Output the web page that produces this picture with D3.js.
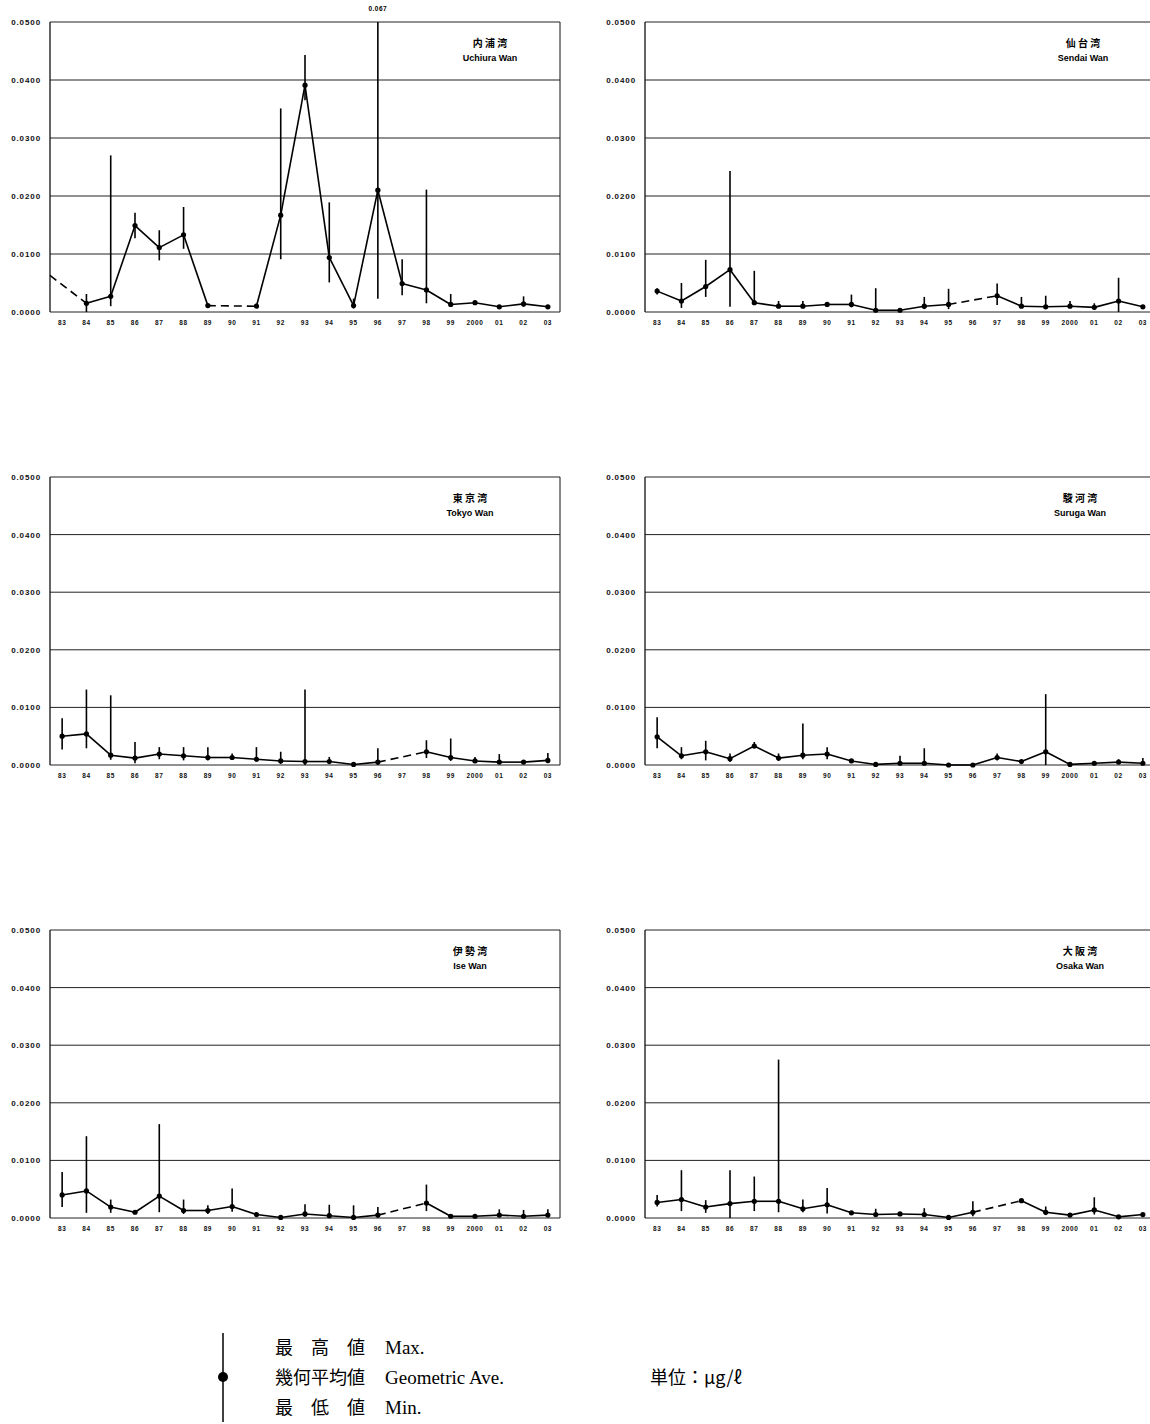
<!DOCTYPE html>
<html>
<head>
<meta charset="utf-8">
<script src="https://cdn.jsdelivr.net/npm/d3@7"></script>
<style>
body { margin: 0; background: #fff; }
</style>
</head>
<body>
<div id="chart"></div>
<script>
// survey years (x axis)
const years = ['83', '84', '85', '86', '87', '88', '89', '90', '91', '92', '93', '94', '95', '96', '97', '98', '99', '2000', '01', '02', '03'];
const yTicks = [0, 0.01, 0.02, 0.03, 0.04, 0.05];

// 内浦湾 Uchiura Wan
const uchiuraMean = [null, 0.0015, 0.0027, 0.0149, 0.0111, 0.0133, 0.0011, null, 0.0010, 0.0167, 0.0391, 0.0094, 0.0011, 0.0210, 0.0049, 0.0038, 0.0013, 0.0016, 0.0009, 0.0014, 0.0009];
const uchiuraMax = [null, 0.0031, 0.0270, 0.0171, 0.0141, 0.0181, null, null, null, 0.0351, 0.0443, 0.0189, 0.0023, 0.067, 0.0091, 0.0211, 0.0031, null, null, 0.0027, null];
const uchiuraMin = [null, 0.0000, 0.0010, 0.0127, 0.0089, 0.0109, null, null, null, 0.0091, 0.0365, 0.0051, 0.0006, 0.0023, 0.0029, 0.0015, 0.0009, null, null, 0.0009, null];
const uchiuraLeadIn = 0.0063; // dashed line coming in from 1982

// 仙台湾 Sendai Wan
const sendaiMean = [0.0036, 0.0019, 0.0044, 0.0073, 0.0016, 0.0010, 0.0010, 0.0013, 0.0013, 0.0003, 0.0003, 0.0010, 0.0013, null, 0.0028, 0.0010, 0.0009, 0.0010, 0.0008, 0.0019, 0.0009];
const sendaiMax = [0.0041, 0.0050, 0.0090, 0.0243, 0.0071, 0.0019, 0.0019, 0.0016, 0.0030, 0.0041, null, 0.0026, 0.0040, null, 0.0049, 0.0026, 0.0028, 0.0019, 0.0015, 0.0059, null];
const sendaiMin = [0.0030, 0.0007, 0.0026, 0.0009, 0.0012, 0.0007, 0.0007, 0.0010, 0.0008, 0.0000, null, 0.0005, 0.0005, null, 0.0012, 0.0007, 0.0006, 0.0007, 0.0005, 0.0000, null];

// 東京湾 Tokyo Wan
const tokyoMean = [0.0050, 0.0054, 0.0017, 0.0012, 0.0019, 0.0016, 0.0013, 0.0013, 0.0010, 0.0007, 0.0006, 0.0006, 0.0001, 0.0005, null, 0.0023, 0.0013, 0.0007, 0.0005, 0.0005, 0.0008];
const tokyoMax = [0.0081, 0.0131, 0.0121, 0.0040, 0.0031, 0.0031, 0.0031, 0.0020, 0.0031, 0.0023, 0.0131, 0.0014, null, 0.0029, null, 0.0043, 0.0046, 0.0014, 0.0019, null, 0.0021];
const tokyoMin = [0.0027, 0.0029, 0.0009, 0.0003, 0.0010, 0.0008, 0.0008, 0.0009, 0.0006, 0.0002, 0.0000, 0.0003, null, 0.0000, null, 0.0012, 0.0007, 0.0004, 0.0002, null, 0.0003];

// 駿河湾 Suruga Wan
const surugaMean = [0.0049, 0.0016, 0.0023, 0.0011, 0.0033, 0.0012, 0.0017, 0.0019, 0.0007, 0.0001, 0.0003, 0.0003, 0.0000, 0.0000, 0.0013, 0.0006, 0.0023, 0.0001, 0.0003, 0.0005, 0.0003];
const surugaMax = [0.0083, 0.0031, 0.0042, 0.0020, 0.0040, 0.0020, 0.0072, 0.0031, null, null, 0.0016, 0.0029, null, null, 0.0020, null, 0.0123, null, null, 0.0010, 0.0012];
const surugaMin = [0.0029, 0.0010, 0.0008, 0.0005, 0.0029, 0.0007, 0.0010, 0.0010, null, null, 0.0000, 0.0000, null, null, 0.0008, null, 0.0000, null, null, 0.0002, 0.0000];

// 伊勢湾 Ise Wan
const iseMean = [0.0040, 0.0047, 0.0019, 0.0010, 0.0038, 0.0013, 0.0013, 0.0020, 0.0006, 0.0001, 0.0007, 0.0004, 0.0001, 0.0005, null, 0.0026, 0.0003, 0.0003, 0.0005, 0.0003, 0.0005];
const iseMax = [0.0080, 0.0142, 0.0032, null, 0.0163, 0.0032, 0.0022, 0.0051, null, null, 0.0024, 0.0023, 0.0022, 0.0019, null, 0.0058, null, null, 0.0015, 0.0014, 0.0015];
const iseMin = [0.0019, 0.0009, 0.0009, null, 0.0010, 0.0007, 0.0007, 0.0011, null, null, 0.0002, 0.0000, 0.0000, 0.0001, null, 0.0012, null, null, 0.0002, 0.0000, 0.0002];

// 大阪湾 Osaka Wan
const osakaMean = [0.0027, 0.0032, 0.0019, 0.0025, 0.0029, 0.0029, 0.0016, 0.0023, 0.0009, 0.0006, 0.0007, 0.0006, 0.0001, 0.0010, null, 0.0030, 0.0010, 0.0005, 0.0014, 0.0002, 0.0006];
const osakaMax = [0.0040, 0.0083, 0.0031, 0.0083, 0.0072, 0.0275, 0.0032, 0.0052, null, 0.0016, null, 0.0017, null, 0.0029, null, null, 0.0020, null, 0.0036, null, null];
const osakaMin = [0.0020, 0.0012, 0.0009, 0.0000, 0.0012, 0.0010, 0.0010, 0.0008, null, 0.0002, null, 0.0002, null, 0.0003, null, null, 0.0005, null, 0.0006, null, null];

const legendRows = [['最　高　値', 'Max.'], ['幾何平均値', 'Geometric Ave.'], ['最　低　値', 'Min.']];
const unitLabel = '単位：μg/ℓ';

const panels = [
	{ jp: '内 浦 湾', en: 'Uchiura Wan', mean: uchiuraMean, max: uchiuraMax, min: uchiuraMin, leadIn: uchiuraLeadIn, left: 50, top: 22, h: 290, tx: 440 },
	{ jp: '仙 台 湾', en: 'Sendai Wan', mean: sendaiMean, max: sendaiMax, min: sendaiMin, left: 645, top: 22, h: 290, tx: 438 },
	{ jp: '東 京 湾', en: 'Tokyo Wan', mean: tokyoMean, max: tokyoMax, min: tokyoMin, left: 50, top: 477, h: 288, tx: 420 },
	{ jp: '駿 河 湾', en: 'Suruga Wan', mean: surugaMean, max: surugaMax, min: surugaMin, left: 645, top: 477, h: 288, tx: 435 },
	{ jp: '伊 勢 湾', en: 'Ise Wan', mean: iseMean, max: iseMax, min: iseMin, left: 50, top: 930, h: 288, tx: 420 },
	{ jp: '大 阪 湾', en: 'Osaka Wan', mean: osakaMean, max: osakaMax, min: osakaMin, left: 645, top: 930, h: 288, tx: 435 }
];

const W = 1150, H = 1424, pw = 510;
const svg = d3.select('#chart').append('svg')
	.attr('width', W).attr('height', H)
	.style('font-family', 'Arial, "Liberation Sans", sans-serif');

panels.forEach(function (p) {
	let x = d3.scaleBand().domain(years).range([0, pw]).padding(0);
	let y = d3.scaleLinear().domain([0, 0.05]).range([p.h, 0]).clamp(true);
	let cx = d => x(d) + x.bandwidth() / 2;
	let g = svg.append('g').attr('transform', 'translate(' + p.left + ',' + p.top + ')');

	// horizontal grid
	g.selectAll('.grid').data(yTicks).enter().append('line')
		.attr('x1', 0).attr('x2', pw)
		.attr('y1', d => y(d)).attr('y2', d => y(d))
		.attr('stroke', '#222').attr('stroke-width', 1);

	// frame
	g.append('line').attr('x1', 0).attr('x2', 0).attr('y1', 0).attr('y2', p.h).attr('stroke', '#111').attr('stroke-width', 1.3);
	g.append('line').attr('x1', pw).attr('x2', pw).attr('y1', 0).attr('y2', p.h).attr('stroke', '#111').attr('stroke-width', 1);

	// y axis labels
	let ya = g.append('g').call(d3.axisLeft(y).tickValues(yTicks).tickFormat(d3.format('.4f')).tickSize(0).tickPadding(9));
	ya.select('.domain').remove();
	ya.selectAll('text').attr('font-size', 8).attr('font-weight', 'bold').attr('fill', '#111')
		.attr('letter-spacing', 0.9);

	// x axis labels
	let xa = g.append('g').attr('transform', 'translate(0,' + p.h + ')')
		.call(d3.axisBottom(x).tickSize(0).tickPadding(8));
	xa.select('.domain').remove();
	xa.selectAll('text').attr('font-size', 6.5).attr('font-weight', 'bold').attr('fill', '#111')
		.attr('letter-spacing', 0.6);

	// max-min bars
	let bars = years.map((yr, i) => ({ yr: yr, max: p.max[i], min: p.min[i] })).filter(d => d.max != null);
	g.selectAll('.bar').data(bars).enter().append('line')
		.attr('x1', d => cx(d.yr)).attr('x2', d => cx(d.yr))
		.attr('y1', d => y(d.max)).attr('y2', d => y(d.min))
		.attr('stroke', '#000').attr('stroke-width', 1.6);

	// mean line: solid between consecutive years, dashed across gaps
	let pts = years.map((yr, i) => ({ yr: yr, i: i, v: p.mean[i] })).filter(d => d.v != null);
	let segs = [];
	for (let k = 1; k < pts.length; k++) {
		segs.push({ a: pts[k - 1], b: pts[k], dashed: pts[k].i - pts[k - 1].i > 1 });
	}
	g.selectAll('.seg').data(segs).enter().append('line')
		.attr('x1', d => cx(d.a.yr)).attr('y1', d => y(d.a.v))
		.attr('x2', d => cx(d.b.yr)).attr('y2', d => y(d.b.v))
		.attr('stroke', '#000').attr('stroke-width', 1.6)
		.attr('stroke-dasharray', d => d.dashed ? '8,5' : null);

	if (p.leadIn != null) {
		g.append('line')
			.attr('x1', 0).attr('y1', y(p.leadIn))
			.attr('x2', cx(pts[0].yr)).attr('y2', y(pts[0].v))
			.attr('stroke', '#000').attr('stroke-width', 1.6)
			.attr('stroke-dasharray', '8,5');
	}

	g.selectAll('.dot').data(pts).enter().append('circle')
		.attr('cx', d => cx(d.yr)).attr('cy', d => y(d.v))
		.attr('r', 2.6).attr('fill', '#000');

	// off-scale maxima
	bars.filter(d => d.max > 0.05).forEach(function (d) {
		g.append('text').attr('x', cx(d.yr)).attr('y', -11)
			.attr('text-anchor', 'middle').attr('font-size', 6.5).attr('font-weight', 'bold')
			.attr('letter-spacing', 0.5)
			.text(String(d.max));
	});

	// titles
	g.append('text').attr('x', p.tx).attr('y', 25).attr('text-anchor', 'middle')
		.attr('font-size', 10).attr('font-weight', 'bold')
		.style('font-family', '"Noto Sans CJK JP", sans-serif')
		.text(p.jp);
	g.append('text').attr('x', p.tx).attr('y', 39).attr('text-anchor', 'middle')
		.attr('font-size', 9).attr('font-weight', 'bold')
		.text(p.en);
});

// legend
let lg = svg.append('g').style('font-family', '"Liberation Serif", "Noto Sans CJK JP", serif');
lg.append('line').attr('x1', 223).attr('x2', 223).attr('y1', 1333).attr('y2', 1422)
	.attr('stroke', '#000').attr('stroke-width', 1.5);
lg.append('circle').attr('cx', 223).attr('cy', 1377).attr('r', 5).attr('fill', '#000');
legendRows.forEach(function (r, i) {
	lg.append('text').attr('x', 275).attr('y', 1354 + i * 30).attr('font-size', 18)
		.style('font-family', '"Noto Sans CJK JP", serif').text(r[0]);
	lg.append('text').attr('x', 385).attr('y', 1354 + i * 30).attr('font-size', 19).text(r[1]);
});
lg.append('text').attr('x', 650).attr('y', 1384).attr('font-size', 18)
	.style('font-family', '"Noto Sans CJK JP", serif').text(unitLabel);
</script>
</body>
</html>
